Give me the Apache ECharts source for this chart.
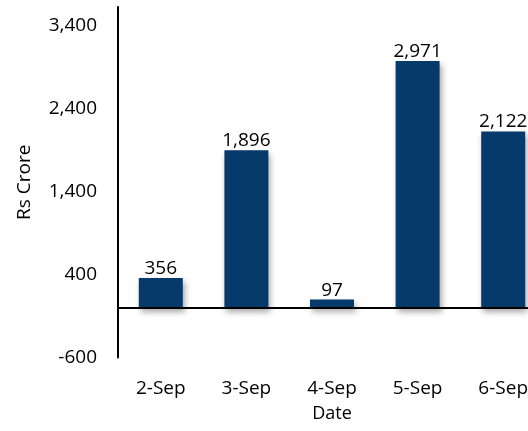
<!DOCTYPE html>
<html>
<head>
<meta charset="utf-8">
<script src="https://cdn.jsdelivr.net/npm/echarts@6/dist/echarts.min.js"></script>
<style>
  html, body { margin: 0; padding: 0; background: #fff; }
  #chart { width: 528px; height: 431px; }
</style>
</head>
<body>
<div id="chart"></div>
<script>
// Daily net flows, Rs Crore
const dates = ['2-Sep', '3-Sep', '4-Sep', '5-Sep', '6-Sep'];
const flows = [356, 1896, 97, 2971, 2122];
const yTicks = [-600, 400, 1400, 2400, 3400];

const FONT = '"Open Sans", sans-serif';
const fmt = v => Number(v).toLocaleString('en-US');

const chart = echarts.init(document.getElementById('chart'), null, { renderer: 'canvas' });
chart.setOption({
  animation: false,
  backgroundColor: '#ffffff',
  // plot area runs past the right edge of the canvas
  grid: {
    left: 118, width: 428, top: 7, height: 350.5,
    containLabel: false,
    outerBoundsMode: 'none'
  },
  xAxis: {
    type: 'category',
    data: dates,
    position: 'bottom',
    axisLine: { show: false, onZero: false },
    axisTick: { show: false },
    axisLabel: { margin: 22, color: '#000', fontFamily: FONT, fontSize: 19 },
    name: 'Date',
    nameLocation: 'middle',
    nameGap: 47,
    nameTextStyle: { color: '#000', fontFamily: FONT, fontSize: 18 }
  },
  yAxis: {
    type: 'value',
    min: -600,
    max: 3620,
    splitLine: { show: false },
    axisLine: { show: true, lineStyle: { color: '#000', width: 2 } },
    axisTick: { show: false, customValues: yTicks },
    axisLabel: {
      customValues: yTicks,
      margin: 21,
      color: '#000',
      fontFamily: FONT,
      fontSize: 19,
      formatter: fmt
    },
    name: 'Rs Crore',
    nameLocation: 'middle',
    nameGap: 84,
    nameTextStyle: { color: '#000', fontFamily: FONT, fontSize: 19 }
  },
  series: [{
    type: 'bar',
    data: flows,
    barWidth: 44,
    itemStyle: {
      color: '#063a6b',
      shadowColor: 'rgba(0,0,0,0.35)',
      shadowBlur: 6,
      shadowOffsetX: 2,
      shadowOffsetY: 4
    },
    label: {
      show: true,
      position: 'top',
      distance: 0,
      color: '#000',
      fontFamily: FONT,
      fontSize: 19,
      formatter: p => fmt(p.value)
    },
    markLine: {
      silent: true,
      symbol: ['none', 'none'],
      label: { show: false },
      lineStyle: { color: '#000', width: 2, type: 'solid' },
      data: [{ yAxis: 0 }]
    }
  }]
});
</script>
</body>
</html>
